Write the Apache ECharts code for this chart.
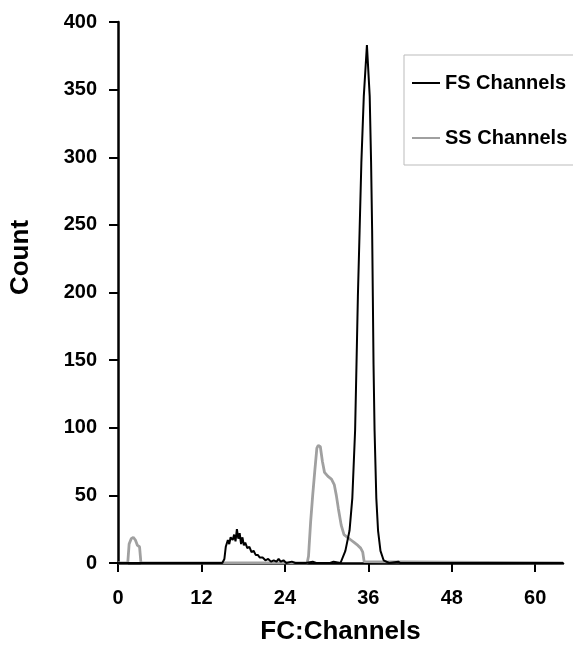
<!DOCTYPE html>
<html>
<head>
<meta charset="utf-8">
<script src="https://cdn.jsdelivr.net/npm/echarts@6/dist/echarts.min.js"></script>
<style>
  html, body { margin: 0; padding: 0; background: #fff; }
  #chart { width: 573px; height: 647px; }
</style>
</head>
<body>
<div id="chart"></div>
<script>
// FS Channels (black)
const fsChannels = [0, 15.0, 15.3, 15.5, 15.8, 16.0, 16.2, 16.5, 16.7, 16.9, 17.1, 17.3, 17.5, 17.7, 17.9, 18.1, 18.3, 18.6, 18.9, 19.2, 19.5, 19.8, 20.1, 20.4, 20.8, 21.2, 21.6, 22.0, 22.4, 22.8, 23.1, 23.4, 23.8, 24.2, 25.0, 25.5, 27.0, 28.0, 28.5, 30.5, 31.0, 32.0, 32.7, 33.3, 33.7, 34.1, 34.3, 34.5, 34.75, 35.0, 35.35, 35.8, 36.2, 36.4, 36.55, 36.65, 36.75, 36.9, 37.15, 37.4, 37.75, 38.2, 39.0, 40.3, 40.6, 64];
const fsCounts = [0, 0, 3, 12, 17, 14, 19, 17, 21, 16, 25, 18, 22, 14, 19, 13, 15, 11, 12, 8, 9, 6, 6, 4, 4, 2, 3, 1, 2, 1, 3, 1, 2, 0, 1, 0, 0, 1, 0, 0, 1, 0, 9, 24, 48, 98, 147, 197, 246, 296, 345, 383, 345, 296, 246, 197, 147, 98, 48, 24, 9, 2, 0, 1, 0, 0];

// SS Channels (grey)
const ssChannels = [0, 1.4, 1.6, 1.9, 2.2, 2.5, 2.8, 3.1, 3.3, 27.2, 27.4, 27.7, 28.0, 28.3, 28.6, 28.8, 29.1, 29.4, 29.7, 30.2, 30.7, 31.1, 31.4, 31.7, 32.1, 32.5, 33.0, 33.5, 34.0, 34.5, 34.9, 35.2, 35.4, 35.6, 64];
const ssCounts = [0, 0, 14, 18, 19, 17, 13, 12, 0, 0, 5, 30, 50, 68, 85, 87, 86, 75, 67, 64, 62, 58, 50, 40, 28, 21, 19, 17, 15, 13, 11, 8, 1, 0, 0];

const xTicks = [0, 12, 24, 36, 48, 60];

const myChart = echarts.init(document.getElementById('chart'));
const font = 'Liberation Sans, Arial, sans-serif';

const option = {
  animation: false,
  backgroundColor: '#fff',
  grid: { left: 118, right: 10, top: 22, bottom: 84, outerBoundsMode: 'none' },
  legend: {
    orient: 'vertical',
    left: 404,
    top: 55,
    padding: [18, 40, 17, 8],
    itemGap: 35,
    itemWidth: 28,
    itemHeight: 2,
    itemTextGap: 2,
    icon: 'rect',
    borderColor: '#bbb',
    borderWidth: 1,
    textStyle: { fontFamily: font, fontWeight: 'bold', fontSize: 20, color: '#000' },
    data: ['FS Channels', 'SS Channels']
  },
  xAxis: {
    type: 'value',
    min: 0,
    max: 64,
    interval: 12,
    name: 'FC:Channels',
    nameLocation: 'middle',
    nameGap: 56,
    nameTextStyle: { fontFamily: font, fontWeight: 'bold', fontSize: 26, color: '#000' },
    splitLine: { show: false },
    axisLine: { lineStyle: { color: '#000', width: 2.5 } },
    axisTick: { length: 9, lineStyle: { color: '#000', width: 2 }, customValues: xTicks },
    axisLabel: { margin: 25, fontFamily: font, fontWeight: 'bold', fontSize: 20, color: '#000', customValues: xTicks }
  },
  yAxis: {
    type: 'value',
    min: 0,
    max: 400,
    interval: 50,
    name: 'Count',
    nameLocation: 'middle',
    nameGap: 84,
    nameTextStyle: { fontFamily: font, fontWeight: 'bold', fontSize: 26, color: '#000', padding: [0, 0, 0, 70] },
    splitLine: { show: false },
    axisLine: { show: true, lineStyle: { color: '#000', width: 2.5 } },
    axisTick: { show: true, length: 9, lineStyle: { color: '#000', width: 2 } },
    axisLabel: { margin: 21, fontFamily: font, fontWeight: 'bold', fontSize: 20, color: '#000' }
  },
  series: [
    {
      name: 'SS Channels',
      type: 'line',
      data: ssChannels.map((c, i) => [c, ssCounts[i]]),
      showSymbol: false,
      lineStyle: { color: '#a0a0a0', width: 2.8 },
      itemStyle: { color: '#a0a0a0' }
    },
    {
      name: 'FS Channels',
      type: 'line',
      data: fsChannels.map((c, i) => [c, fsCounts[i]]),
      showSymbol: false,
      lineStyle: { color: '#000', width: 2 },
      itemStyle: { color: '#000' }
    }
  ]
};

myChart.setOption(option);
</script>
</body>
</html>
